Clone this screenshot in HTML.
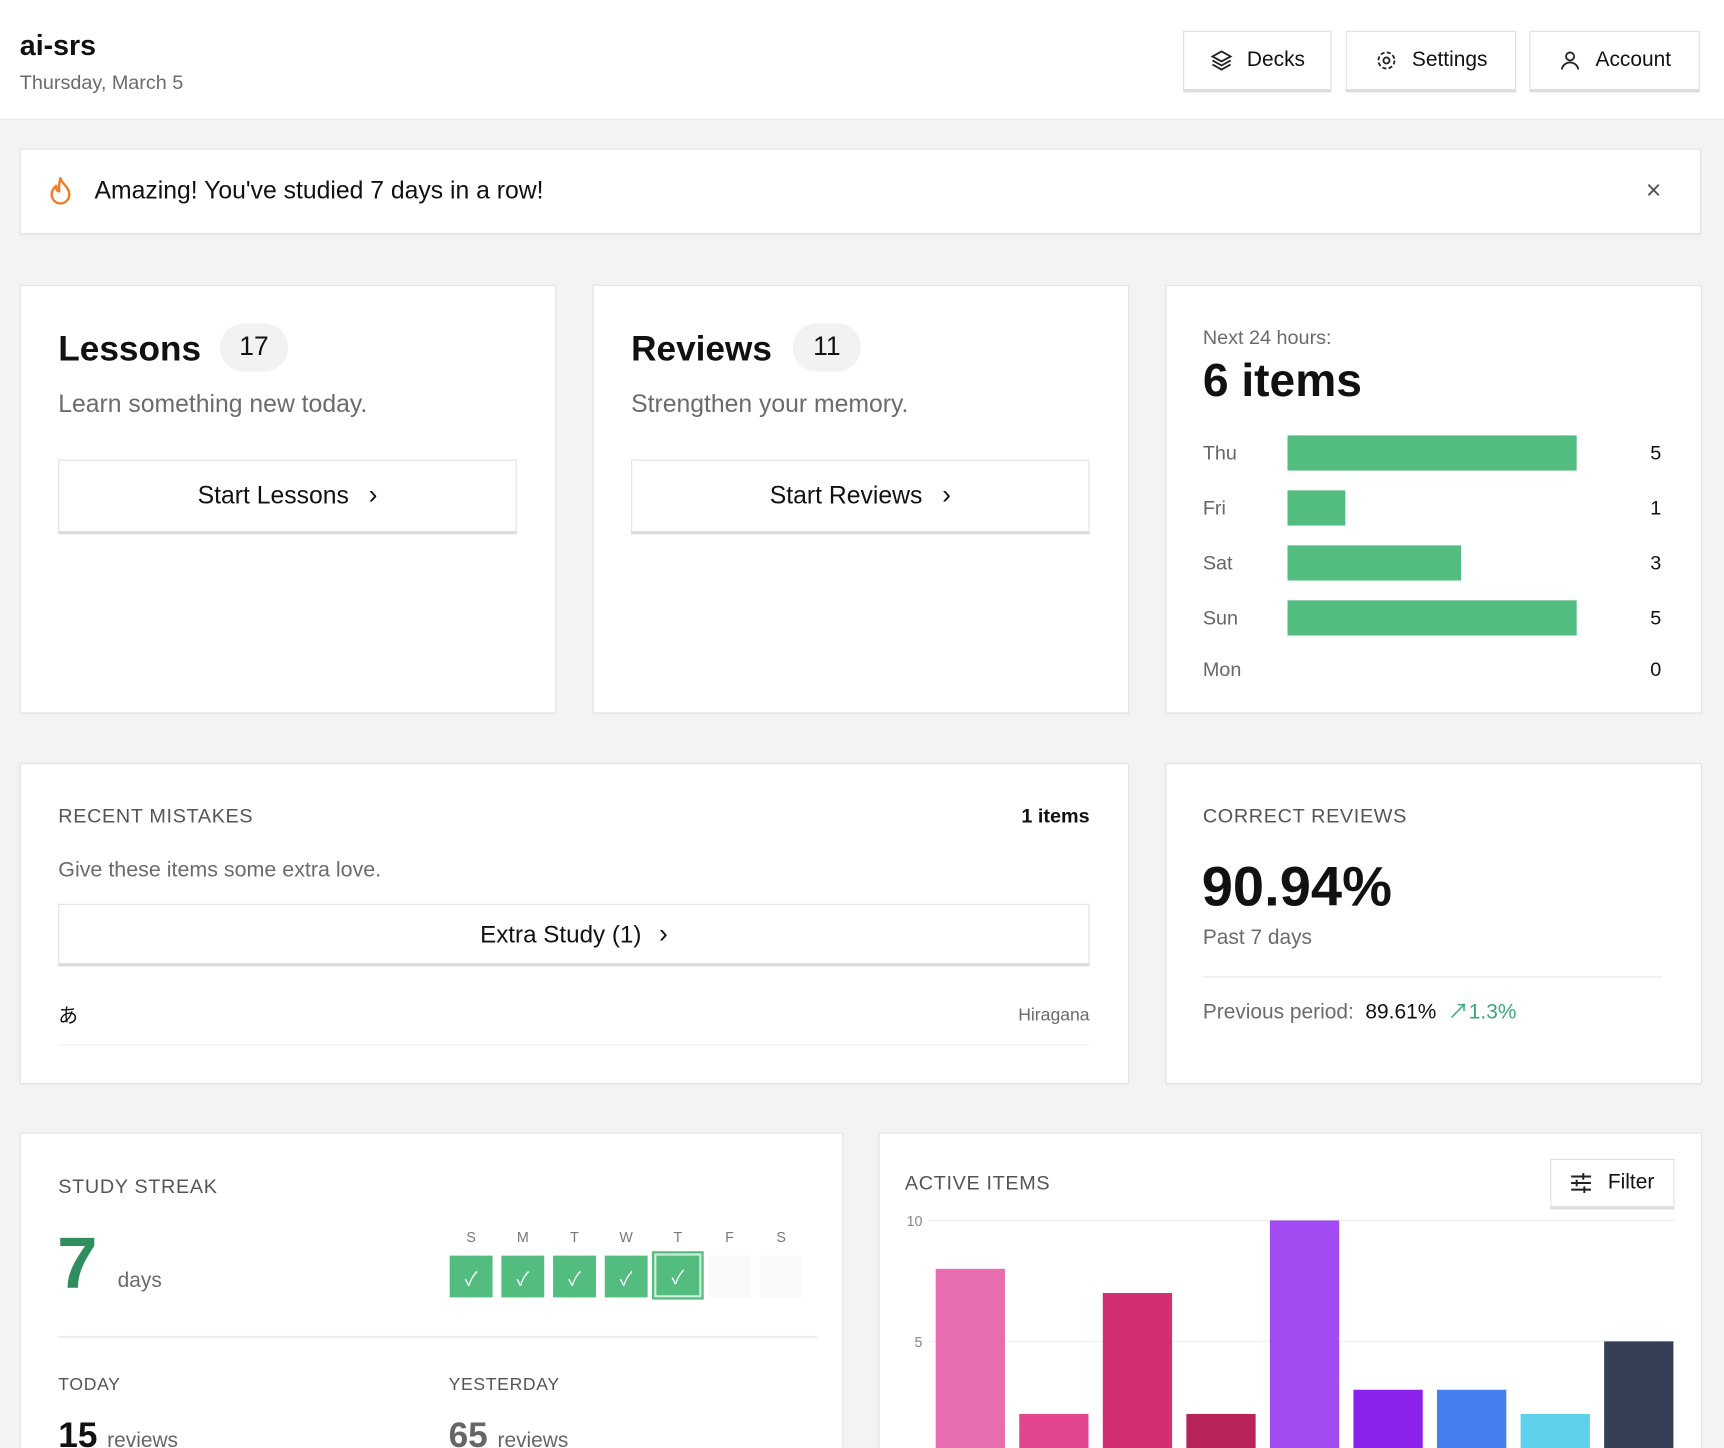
<!DOCTYPE html>
<html><head><meta charset="utf-8">
<style>
html,body{margin:0;padding:0;width:1724px;height:1448px;overflow:hidden;background:#f3f3f3}
#root{position:absolute;left:0;top:0;width:1568px;height:1317px;overflow:hidden;transform:scale(1.09949);transform-origin:0 0;font-family:"Liberation Sans","Noto Sans CJK JP",sans-serif;color:#111;background:#f3f3f3}
.a{position:absolute}
.t{position:absolute;white-space:nowrap;line-height:1;transform:translateY(-50%)}
.card{position:absolute;background:#fff;border:1px solid #e2e2e2;box-shadow:0 1px 2px rgba(0,0,0,.04)}
.btn{position:absolute;background:#fff;border:1px solid #e0e0e0;border-bottom:3px solid #ddd;box-sizing:border-box;display:flex;align-items:center;justify-content:center;font-size:22.5px;color:#111}
.gray{color:#6b6b6b}
.cap{font-size:18px;color:#555;letter-spacing:.6px}
</style></head><body>
<div id="root">
<div class="a" style="left:0;top:0;width:1568px;height:108px;background:#fff;border-bottom:1px solid #e6e6e6"></div>
<div class="t" style="left:18px;top:41px;font-size:26px;font-weight:bold">ai-srs</div>
<div class="t gray" style="left:18px;top:75px;font-size:18px">Thursday, March 5</div>
<div class="btn" style="left:1076px;top:28px;width:135px;height:56px;font-size:19px"><svg width="22" height="22" viewBox="0 0 24 24" fill="none" stroke="#222" stroke-width="1.8" style="margin-right:12px"><path d="M12 3l9 5-9 5-9-5z"/><path d="M3 12l9 5 9-5"/><path d="M3 16l9 5 9-5"/></svg>Decks</div>
<div class="btn" style="left:1224px;top:28px;width:155px;height:56px;font-size:19px"><svg width="22" height="22" viewBox="0 0 24 24" fill="none" stroke="#222" stroke-width="1.8" style="margin-right:12px"><circle cx="12" cy="12" r="3"/><circle cx="12" cy="12" r="8" stroke-dasharray="4 2.3"/></svg>Settings</div>
<div class="btn" style="left:1391px;top:28px;width:155px;height:56px;font-size:19px"><svg width="22" height="22" viewBox="0 0 24 24" fill="none" stroke="#222" stroke-width="1.8" style="margin-right:12px"><circle cx="12" cy="8" r="4"/><path d="M4 21c0-4 4-7 8-7s8 3 8 7"/></svg>Account</div>

<div class="card" style="left:18px;top:135px;width:1527px;height:76px"></div>
<svg class="a" style="left:44px;top:160px" width="22" height="28" viewBox="0 0 22 28"><path d="M11 2c1 5 8 8 8 15a8 8 0 0 1-16 0c0-4 2-6 4-8 0 3 1 5 3 5-1-4 0-8 1-12z" fill="none" stroke="#f07c26" stroke-width="2.2" stroke-linejoin="round"/></svg>
<div class="t" style="left:86px;top:174px;font-size:22.5px">Amazing! You've studied 7 days in a row!</div>
<div class="t" style="left:1497px;top:174px;font-size:24px;color:#555">×</div>

<!-- Lessons -->
<div class="card" style="left:18px;top:259px;width:486px;height:388px"></div>
<div class="t" style="left:53px;top:317px;font-size:32px;font-weight:bold">Lessons</div>
<div class="a" style="left:200px;top:294px;width:62px;height:44px;border-radius:22px;background:#f2f2f2;display:flex;align-items:center;justify-content:center;font-size:24px">17</div>
<div class="t gray" style="left:53px;top:368px;font-size:22.5px">Learn something new today.</div>
<div class="btn" style="left:53px;top:418px;width:417px;height:68px">Start Lessons<span style="margin-left:18px;font-size:24px">›</span></div>
<!-- Reviews -->
<div class="card" style="left:539px;top:259px;width:486px;height:388px"></div>
<div class="t" style="left:574px;top:317px;font-size:32px;font-weight:bold">Reviews</div>
<div class="a" style="left:721px;top:294px;width:62px;height:44px;border-radius:22px;background:#f2f2f2;display:flex;align-items:center;justify-content:center;font-size:24px">11</div>
<div class="t gray" style="left:574px;top:368px;font-size:22.5px">Strengthen your memory.</div>
<div class="btn" style="left:574px;top:418px;width:417px;height:68px">Start Reviews<span style="margin-left:18px;font-size:24px">›</span></div>
<!-- Forecast -->
<div class="card" style="left:1060px;top:259px;width:486px;height:388px"></div>
<div class="t gray" style="left:1094px;top:307px;font-size:18px">Next 24 hours:</div>
<div class="t" style="left:1094px;top:346px;font-size:42px;font-weight:bold">6 items</div>
<svg id="fc" class="a" style="left:1060px;top:380px" width="486" height="250"></svg>

<!-- Mistakes -->
<div class="card" style="left:18px;top:694px;width:1007px;height:290px"></div>
<div class="t cap" style="left:53px;top:742px">RECENT MISTAKES</div>
<div class="t" style="right:577px;top:742px;font-size:18px;font-weight:bold">1 items</div>
<div class="t gray" style="left:53px;top:792px;font-size:19.5px">Give these items some extra love.</div>
<div class="btn" style="left:53px;top:822px;width:938px;height:57px;font-size:22px">Extra Study (1)<span style="margin-left:16px;font-size:24px">›</span></div>
<div class="t" style="left:53px;top:924px;font-size:18px">あ</div>
<div class="t gray" style="right:577px;top:924px;font-size:16px">Hiragana</div>
<div class="a" style="left:53px;top:950px;width:938px;height:1px;background:#f0f0f0"></div>
<!-- Correct -->
<div class="card" style="left:1060px;top:694px;width:486px;height:290px"></div>
<div class="t cap" style="left:1094px;top:742px">CORRECT REVIEWS</div>
<div class="t" style="left:1093px;top:806px;font-size:51px;font-weight:bold">90.94%</div>
<div class="t gray" style="left:1094px;top:853px;font-size:19px">Past 7 days</div>
<div class="a" style="left:1094px;top:888px;width:418px;height:1px;background:#e6e6e6"></div>
<div class="t" style="left:1094px;top:921px;font-size:19px"><span class="gray">Previous period:</span>&nbsp; <span style="color:#111">89.61%</span>&nbsp; <span style="color:#3aa876">↗1.3%</span></div>

<!-- Streak -->
<div class="card" style="left:18px;top:1030px;width:747px;height:320px"></div>
<div class="t cap" style="left:53px;top:1079px">STUDY STREAK</div>
<div class="t" style="left:52px;top:1148px;font-size:66px;font-weight:bold;color:#2f8d5e">7</div>
<div class="t gray" style="left:107px;top:1165px;font-size:19px">days</div>
<div id="week"></div>
<div class="a" style="left:53px;top:1215px;width:690px;height:2px;background:#eee"></div>
<div class="t cap" style="left:53px;top:1260px;font-size:16px">TODAY</div>
<div class="t cap" style="left:408px;top:1260px;font-size:16px">YESTERDAY</div>
<div class="t" style="left:53px;top:1305px;font-size:32px;font-weight:bold">15 <span style="font-size:19px;font-weight:normal;color:#666">reviews</span></div>
<div class="t" style="left:408px;top:1305px;font-size:32px;font-weight:bold;color:#666">65 <span style="font-size:19px;font-weight:normal">reviews</span></div>

<!-- Active items -->
<div class="card" style="left:799px;top:1030px;width:747px;height:320px"></div>
<div class="t cap" style="left:823px;top:1076px">ACTIVE ITEMS</div>
<div class="btn" style="left:1410px;top:1054px;width:113px;height:46px;font-size:19px"><svg width="20" height="20" viewBox="0 0 20 20" stroke="#222" stroke-width="1.8" style="margin-right:14px"><path d="M1 4h18M1 10h18M1 16h18"/><path d="M12 1v6M6 7v6M13 13v6"/></svg>Filter</div>
<svg id="ac" class="a" style="left:799px;top:1090px" width="747" height="240"></svg>
</div>
<script>
const NS="http://www.w3.org/2000/svg";
function mk(p,tag,at){const e=document.createElementNS(NS,tag);for(const k in at)e.setAttribute(k,at[k]);p.appendChild(e);return e;}
// forecast
const fcDays=["Thu","Fri","Sat","Sun","Mon"];
const fcValues=[5,1,3,5,0];
const fcMax=5;
const fc=document.getElementById('fc');
const fx=v=>111+v/fcMax*263;
fcDays.forEach((d,i)=>{
  const cy=32+i*50-(i==4?3:0);
  const l=mk(fc,'text',{x:34,y:cy+6,'font-size':18,fill:'#666'});l.textContent=d;
  
  
  if(fcValues[i]>0){const r=mk(fc,'rect',{x:111,y:cy-16,width:fx(fcValues[i])-111,height:32,fill:'#52bd7f'});
  
  }
  const v=mk(fc,'text',{x:451,y:cy+6,'font-size':18,'text-anchor':'end',fill:'#111'});v.textContent=fcValues[i];
  
  
});
// week
const weekLabels=["S","M","T","W","T","F","S"];
const weekDone=[1,1,1,1,1,0,0];
const wk=document.getElementById('week');
weekLabels.forEach((d,i)=>{
  const x=409+i*47;
  const l=document.createElement('div');l.className='t';l.style.cssText=`left:${x}px;top:1125px;width:39px;text-align:center;font-size:13px;color:#777`;l.textContent=d;
  
  
  wk.appendChild(l);
  const b=document.createElement('div');b.className='a';
  const today=i==4;
  b.style.cssText=`left:${x}px;top:1142px;width:39px;height:38px;box-sizing:border-box;background:${weekDone[i]?'#52bd7f':'#fafafa'};color:#fff;display:flex;align-items:center;justify-content:center;font-size:17px;${today?'outline:2px solid #52bd7f;border:2px solid #cfeedd;width:43px;height:40px;left:'+(x-2)+'px;top:1140px;':''}`;
  if(weekDone[i])b.textContent='✓';
  
  
  wk.appendChild(b);
});
// active items
const acCats=["a","b","c","d","e","f","g","h","i"];
const acValues=[8,2,7,2,10,3,3,2,5];
const acColors=["#e86daf","#e34590","#d32e71","#b8235a","#a24bf3","#8b21ea","#457ff0","#5fd0ea","#343f55"];
const acTicks=[0,5,10];
const ac=document.getElementById('ac');
const ay=v=>240-v*22;
const ax=i=>52+i*76;
acTicks.forEach(t=>{
  const g=mk(ac,'line',{x1:45,x2:725,y1:ay(t),y2:ay(t),stroke:'#eee'});
  
  
  const l=mk(ac,'text',{x:40,y:ay(t)+5,'font-size':13,fill:'#888','text-anchor':'end'});l.textContent=t;
  
  
});
acCats.forEach((c,i)=>{
  const r=mk(ac,'rect',{x:ax(i),y:ay(acValues[i]),width:63,height:acValues[i]*22,fill:acColors[i]});
  
  
});
</script>
</body></html>
